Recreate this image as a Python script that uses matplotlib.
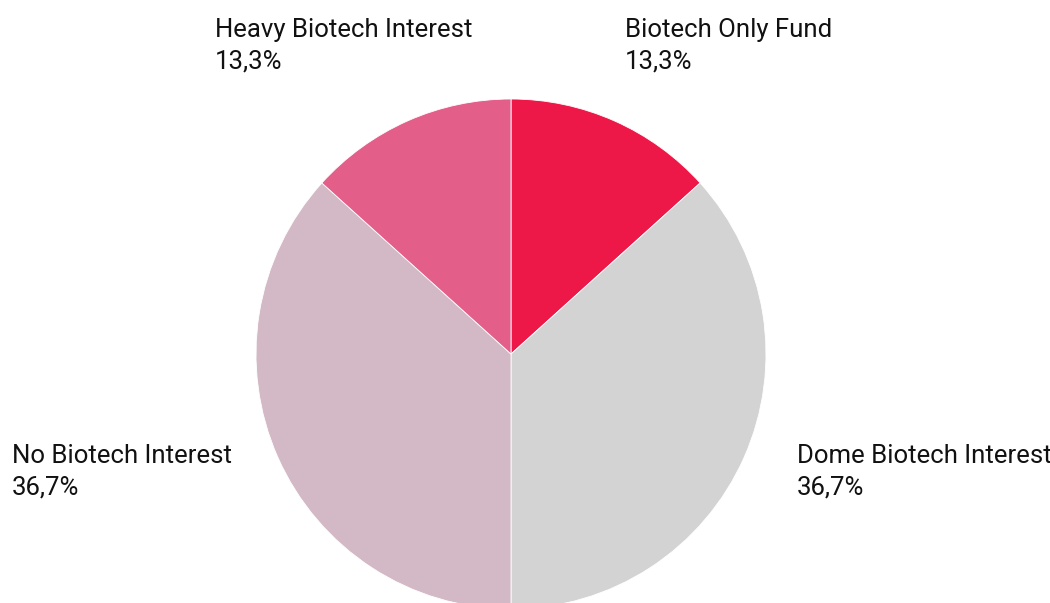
import matplotlib.pyplot as plt

# slices in clockwise order starting from 12 o'clock
labels = ['Biotech Only Fund', 'Dome Biotech Interest', 'No Biotech Interest', 'Heavy Biotech Interest']
shares = [13.3, 36.7, 36.7, 13.3]
pct_labels = ['13,3%', '36,7%', '36,7%', '13,3%']
colors = ['#EE1848', '#D3D3D3', '#D3B8C5', '#E35E89']

# where the label text sits (pixels, left edge / baseline of the first line)
label_pos = [(625, 37), (797, 463), (12, 463), (215, 37)]

W, H = 1050, 603
fig = plt.figure(figsize=(W / 100, H / 100), dpi=100)
ax = fig.add_axes([0, 0, 1, 1])

ax.pie(shares, colors=colors, startangle=90, counterclock=False,
       center=(511, H - 354), radius=255, frame=True,
       wedgeprops={'edgecolor': 'white', 'linewidth': 0.6})
ax.set_xlim(0, W)
ax.set_ylim(0, H)
ax.axis('off')

font = ['Roboto', 'DejaVu Sans']
for name, pct, (x, y) in zip(labels, pct_labels, label_pos):
    ax.text(x, H - y, name, fontsize=18.5, family=font, color='#111111',
            ha='left', va='baseline')
    ax.text(x, H - y - 31, pct, fontsize=18.5, family=font, color='#111111',
            ha='left', va='baseline')

fig.savefig('out.png', dpi=100)
